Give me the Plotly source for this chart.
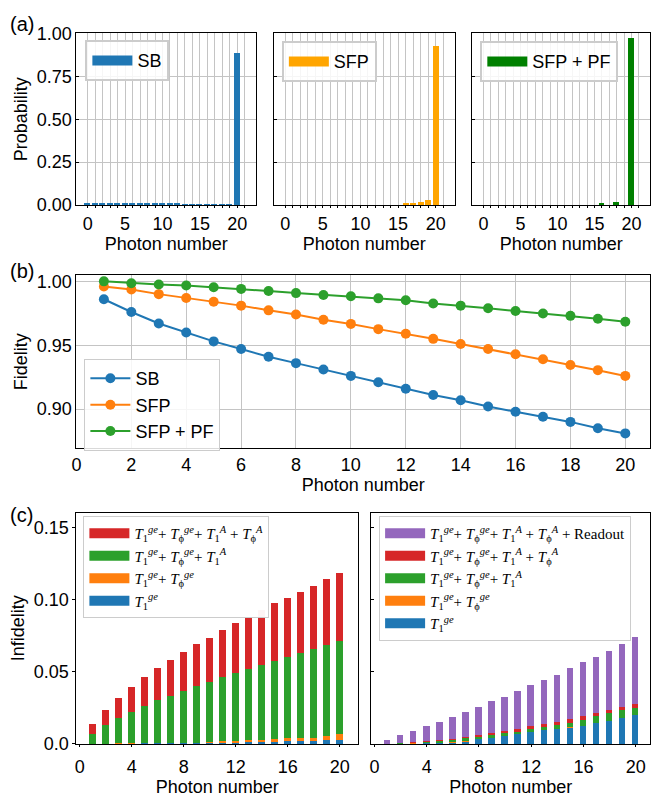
import plotly.graph_objects as go

W, H = 651, 802

# ---------------- (a) photon-number distributions ----------------
photon_a = [0, 1, 2, 3, 4, 5, 6, 7, 8, 9, 10, 11, 12, 13, 14, 15, 16, 17, 18, 19, 20, 21]
prob_sb = [0.006, 0.006, 0.006, 0.006, 0.006, 0.006, 0.006, 0.004, 0.006, 0.006, 0.004,
           0.006, 0.006, 0.003, 0.002, 0.002, 0.002, 0.002, 0.002, 0.002, 0.885, 0.0]
prob_sfp = [0.0, 0.0, 0.0, 0.0, 0.0, 0.0, 0.0, 0.0, 0.0, 0.0, 0.0,
            0.0, 0.0, 0.0, 0.0, 0.0, 0.004, 0.010, 0.014, 0.025, 0.923, 0.0]
prob_pf = [0.0, 0.0, 0.0, 0.0, 0.0, 0.0, 0.0, 0.0, 0.0, 0.0, 0.0,
           0.0, 0.0, 0.0, 0.0, 0.0, 0.005, 0.0, 0.015, 0.0, 0.970, 0.0]
names_a = ["SB", "SFP", "SFP + PF"]
colors_a = ["#1f77b4", "#ffa500", "#008000"]

# ---------------- (b) fidelity vs photon number ----------------
photon_b = [1, 2, 3, 4, 5, 6, 7, 8, 9, 10, 11, 12, 13, 14, 15, 16, 17, 18, 19, 20]
fid_sb = [0.986, 0.976, 0.967, 0.960, 0.953, 0.947, 0.941, 0.936, 0.931, 0.926,
          0.921, 0.916, 0.911, 0.907, 0.902, 0.898, 0.894, 0.890, 0.885, 0.881]
fid_sfp = [0.996, 0.9936, 0.990, 0.987, 0.984, 0.981, 0.9773, 0.974, 0.970, 0.9667,
           0.9626, 0.959, 0.955, 0.951, 0.947, 0.943, 0.939, 0.9346, 0.9305, 0.926]
fid_pf = [1.000, 0.9985, 0.9975, 0.9967, 0.9954, 0.9941, 0.9924, 0.9908, 0.9893, 0.9883,
          0.9867, 0.9852, 0.9827, 0.9810, 0.9789, 0.9768, 0.9748, 0.9730, 0.9707, 0.9684]
colors_b = ["#1f77b4", "#ff7f0e", "#2ca02c"]

# ---------------- (c) cumulative infidelity budgets ----------------
photon_c = [1, 2, 3, 4, 5, 6, 7, 8, 9, 10, 11, 12, 13, 14, 15, 16, 17, 18, 19, 20]
# left: without readout
left_t1 = [0.0001, 0.0001, 0.0002, 0.0002, 0.0003, 0.0003, 0.0004, 0.0007, 0.0008, 0.0009,
           0.0010, 0.0012, 0.0013, 0.0014, 0.0018, 0.0020, 0.0020, 0.0025, 0.0027, 0.0028]
left_t1_tphi = [0.0001, 0.0002, 0.0003, 0.0004, 0.0005, 0.0006, 0.0008, 0.0008, 0.0012, 0.0014,
                0.0020, 0.0025, 0.0028, 0.0030, 0.0034, 0.0045, 0.0045, 0.0047, 0.0055, 0.0068]
left_t1a = [0.0074, 0.0133, 0.0182, 0.0223, 0.0264, 0.0304, 0.0336, 0.0372, 0.0403, 0.0430,
            0.0466, 0.0493, 0.0520, 0.0547, 0.0579, 0.0606, 0.0633, 0.0660, 0.0687, 0.0714]
left_tphia = [0.0142, 0.0241, 0.0322, 0.0397, 0.0464, 0.0532, 0.0586, 0.0640, 0.0694, 0.0739,
              0.0795, 0.0843, 0.0883, 0.0930, 0.0978, 0.1018, 0.1059, 0.1100, 0.1147, 0.1187]
# right: including readout
right_t1 = [0.0, 0.0001, 0.0002, 0.0005, 0.0009, 0.0011, 0.0018, 0.0034, 0.0045, 0.0059,
            0.0072, 0.0086, 0.0097, 0.0108, 0.0115, 0.0126, 0.0146, 0.0160, 0.0180, 0.0201]
right_t1_tphi = [0.0, 0.0001, 0.0003, 0.0006, 0.0010, 0.0017, 0.0024, 0.0036, 0.0046, 0.0060,
                 0.0073, 0.0087, 0.0098, 0.0109, 0.0119, 0.0128, 0.0147, 0.0161, 0.0181, 0.0202]
right_t1a = [0.0, 0.0007, 0.0011, 0.0018, 0.0023, 0.0032, 0.0045, 0.0054, 0.0065, 0.0077,
             0.0088, 0.0104, 0.0117, 0.0131, 0.0151, 0.0171, 0.0196, 0.0214, 0.0236, 0.0255]
right_tphia = [0.0, 0.0009, 0.0018, 0.0025, 0.0032, 0.0038, 0.0052, 0.0065, 0.0081, 0.0090,
               0.0106, 0.0126, 0.0140, 0.0155, 0.0176, 0.0196, 0.0216, 0.0236, 0.0257, 0.0282]
right_readout = [0.0027, 0.0061, 0.0095, 0.0128, 0.0155, 0.0189, 0.0223, 0.0257, 0.0297, 0.0331,
                 0.0372, 0.0410, 0.0446, 0.0484, 0.0530, 0.0568, 0.0608, 0.0649, 0.0696, 0.0743]

T1 = "<i>T</i><sub>1</sub><sup><i>ge</i></sup>"
TP = "<i>T</i><sub>\u03d5</sub><sup><i>ge</i></sup>"
TA = "<i>T</i><sub>1</sub><sup><i>A</i></sup>"
TPA = "<i>T</i><sub>\u03d5</sub><sup><i>A</i></sup>"
labels_c = [T1, T1 + "+ " + TP, T1 + "+ " + TP + "+ " + TA,
            T1 + "+ " + TP + "+ " + TA + " + " + TPA,
            T1 + "+ " + TP + "+ " + TA + " + " + TPA + " + Readout"]
colors_c = ["#1f77b4", "#ff7f0e", "#2ca02c", "#d62728", "#9467bd"]

SANS = "Liberation Sans, Arial, sans-serif"
SERIF = "Liberation Serif, Times New Roman, serif"
BLACK = "#000000"
GRID = "#c4c4c4"
FS = 18


def xdom(p0, p1):
    return [p0 / W, p1 / W]


def ydom(top, bottom):
    return [1 - bottom / H, 1 - top / H]


fig = go.Figure()

# (a) bars + legend proxies
series_a = [prob_sb, prob_sfp, prob_pf]
for i, (vals, name, col) in enumerate(zip(series_a, names_a, colors_a)):
    ax = "" if i == 0 else str(i + 1)
    leg = "legend" if i == 0 else "legend%d" % (i + 1)
    fig.add_trace(go.Bar(x=photon_a, y=vals, width=0.8, marker=dict(color=col, line=dict(width=0)),
                         xaxis="x" + ax, yaxis="y" + ax, showlegend=False))
    fig.add_trace(go.Scatter(x=[None], y=[None], mode="lines", name=name,
                             line=dict(color=col, width=10), xaxis="x" + ax, yaxis="y" + ax,
                             legend=leg))

# (b) fidelity lines
for vals, name, col in zip([fid_sb, fid_sfp, fid_pf], names_a, colors_b):
    fig.add_trace(go.Scatter(x=photon_b, y=vals, mode="lines+markers", name=name,
                             line=dict(color=col, width=2), marker=dict(size=10, color=col),
                             xaxis="x4", yaxis="y4", legend="legend4"))

# (c) overlaid cumulative bars, largest total drawn first
left_sets = [left_tphia, left_t1a, left_t1_tphi, left_t1]
left_idx = [3, 2, 1, 0]
for vals, k in zip(left_sets, left_idx):
    fig.add_trace(go.Bar(x=photon_c, y=vals, width=0.5, marker=dict(color=colors_c[k], line=dict(width=0)),
                         xaxis="x5", yaxis="y5", showlegend=False))
    fig.add_trace(go.Scatter(x=[None], y=[None], mode="lines", name=labels_c[k],
                             line=dict(color=colors_c[k], width=10), xaxis="x5", yaxis="y5",
                             legend="legend5"))

right_sets = [right_readout, right_tphia, right_t1a, right_t1_tphi, right_t1]
right_idx = [4, 3, 2, 1, 0]
for vals, k in zip(right_sets, right_idx):
    fig.add_trace(go.Bar(x=photon_c, y=vals, width=0.5, marker=dict(color=colors_c[k], line=dict(width=0)),
                         xaxis="x6", yaxis="y6", showlegend=False))
    fig.add_trace(go.Scatter(x=[None], y=[None], mode="lines", name=labels_c[k],
                             line=dict(color=colors_c[k], width=10), xaxis="x6", yaxis="y6",
                             legend="legend6"))

tickfont = dict(family=SANS, size=FS, color=BLACK)
titlefont = dict(family=SANS, size=FS, color=BLACK)

base_axis = dict(showline=True, linecolor=BLACK, linewidth=1, mirror=True, zeroline=False,
                 tickfont=tickfont, color=BLACK)


def ax_a_x(dom, anchor):
    return dict(base_axis, domain=dom, anchor=anchor, range=[-1.5, 22.5],
                tickmode="array", tickvals=[0, 5, 10, 15, 20], ticks="outside", ticklen=2,
                tickcolor=BLACK, showgrid=True, gridcolor=GRID, gridwidth=1,
                minor=dict(tickmode="array", tickvals=photon_a, ticks="outside", ticklen=2,
                           tickcolor=BLACK, showgrid=True, gridcolor=GRID, gridwidth=1),
                title=dict(text="Photon number", font=titlefont, standoff=0))


def ax_a_y(dom, anchor, labels):
    return dict(base_axis, domain=dom, anchor=anchor, range=[0, 1.0],
                tickmode="array", tickvals=[0, 0.25, 0.5, 0.75, 1.0],
                ticktext=["0.00", "0.25", "0.50", "0.75", "1.00"] if labels else None,
                showticklabels=labels, ticks="inside", ticklen=3, tickcolor=BLACK,
                showgrid=True, gridcolor=GRID, gridwidth=1)


ya = ydom(24, 200)
fig.update_layout(
    xaxis=ax_a_x(xdom(72, 253), "y"),
    xaxis2=ax_a_x(xdom(271, 453), "y2"),
    xaxis3=ax_a_x(xdom(471, 650), "y3"),
    yaxis=dict(ax_a_y(ya, "x", True), title=dict(text="Probability", font=titlefont, standoff=4)),
    yaxis2=ax_a_y(ya, "x2", False),
    yaxis3=ax_a_y(ya, "x3", False),
    xaxis4=dict(base_axis, domain=xdom(72, 650), anchor="y4", range=[0, 20.9],
                tickmode="array", tickvals=[0, 2, 4, 6, 8, 10, 12, 14, 16, 18, 20],
                ticks="", showgrid=True, gridcolor=GRID, gridwidth=1,
                title=dict(text="Photon number", font=titlefont, standoff=2)),
    yaxis4=dict(base_axis, domain=ydom(272, 449.3), anchor="x4", range=[0.8695, 1.0048],
                tickmode="array", tickvals=[0.90, 0.95, 1.00], ticktext=["0.90", "0.95", "1.00"],
                ticks="", showgrid=True, gridcolor=GRID, gridwidth=1,
                title=dict(text="Fidelity", font=titlefont, standoff=4)),
    xaxis5=dict(base_axis, domain=xdom(72, 355.7), anchor="y5", range=[-0.25, 21.4],
                tickmode="array", tickvals=[0, 4, 8, 12, 16, 20], ticks="outside", ticklen=2,
                tickcolor=BLACK, showgrid=False, ticklabelstandoff=4,
                title=dict(text="Photon number", font=titlefont, standoff=2)),
    yaxis5=dict(base_axis, domain=ydom(515.5, 752.7), anchor="x5", range=[0, 0.1604],
                tickmode="array", tickvals=[0, 0.05, 0.10, 0.15], ticktext=["0.0", "0.05", "0.10", "0.15"],
                ticks="outside", ticklen=3, tickcolor=BLACK, showgrid=False,
                title=dict(text="Infidelity", font=titlefont, standoff=4)),
    xaxis6=dict(base_axis, domain=xdom(369.3, 650), anchor="y6", range=[-0.23, 21.1],
                tickmode="array", tickvals=[0, 4, 8, 12, 16, 20], ticks="outside", ticklen=2,
                tickcolor=BLACK, showgrid=False, ticklabelstandoff=4,
                title=dict(text="Photon number", font=titlefont, standoff=2)),
    yaxis6=dict(base_axis, domain=ydom(515.5, 752.7), anchor="x6", range=[0, 0.1604],
                tickmode="array", tickvals=[0, 0.05, 0.10, 0.15], showticklabels=False,
                ticks="inside", ticklen=3, tickcolor=BLACK, showgrid=False),
)

leg_common = dict(bgcolor="rgba(255,255,255,0.85)", bordercolor="#cccccc", borderwidth=1,
                  xanchor="left", yanchor="top", itemwidth=40, tracegroupgap=0,
                  font=dict(family=SANS, size=FS, color=BLACK))


def px_leg(px, py, **kw):
    d = dict(leg_common, x=px / W, y=1 - py / H)
    d.update(kw)
    return d


serif_leg = dict(family=SERIF, size=15, color=BLACK)
fig.update_layout(
    legend=px_leg(81, 31, borderwidth=2),
    legend2=px_leg(279, 32, borderwidth=2),
    legend3=px_leg(479, 32, borderwidth=2),
    legend4=px_leg(80, 358),
    legend5=px_leg(79, 519, font=serif_leg, bgcolor="rgba(255,255,255,0.95)"),
    legend6=px_leg(377, 519, font=serif_leg, bgcolor="rgba(255,255,255,0.95)"),
)

panel_font = dict(family=SANS, size=20, color=BLACK)
for txt, py in [("(a)", 14), ("(b)", 268), ("(c)", 518)]:
    fig.add_annotation(text=txt, xref="paper", yref="paper", x=3 / W, y=1 - py / H,
                       xanchor="left", yanchor="middle", showarrow=False, font=panel_font)

fig.update_layout(
    width=W, height=H, margin=dict(l=0, r=0, t=0, b=0),
    paper_bgcolor="white", plot_bgcolor="white",
    barmode="overlay", bargap=0, showlegend=True,
    font=dict(family=SANS, size=FS, color=BLACK),
)

fig.write_html("out.html")
